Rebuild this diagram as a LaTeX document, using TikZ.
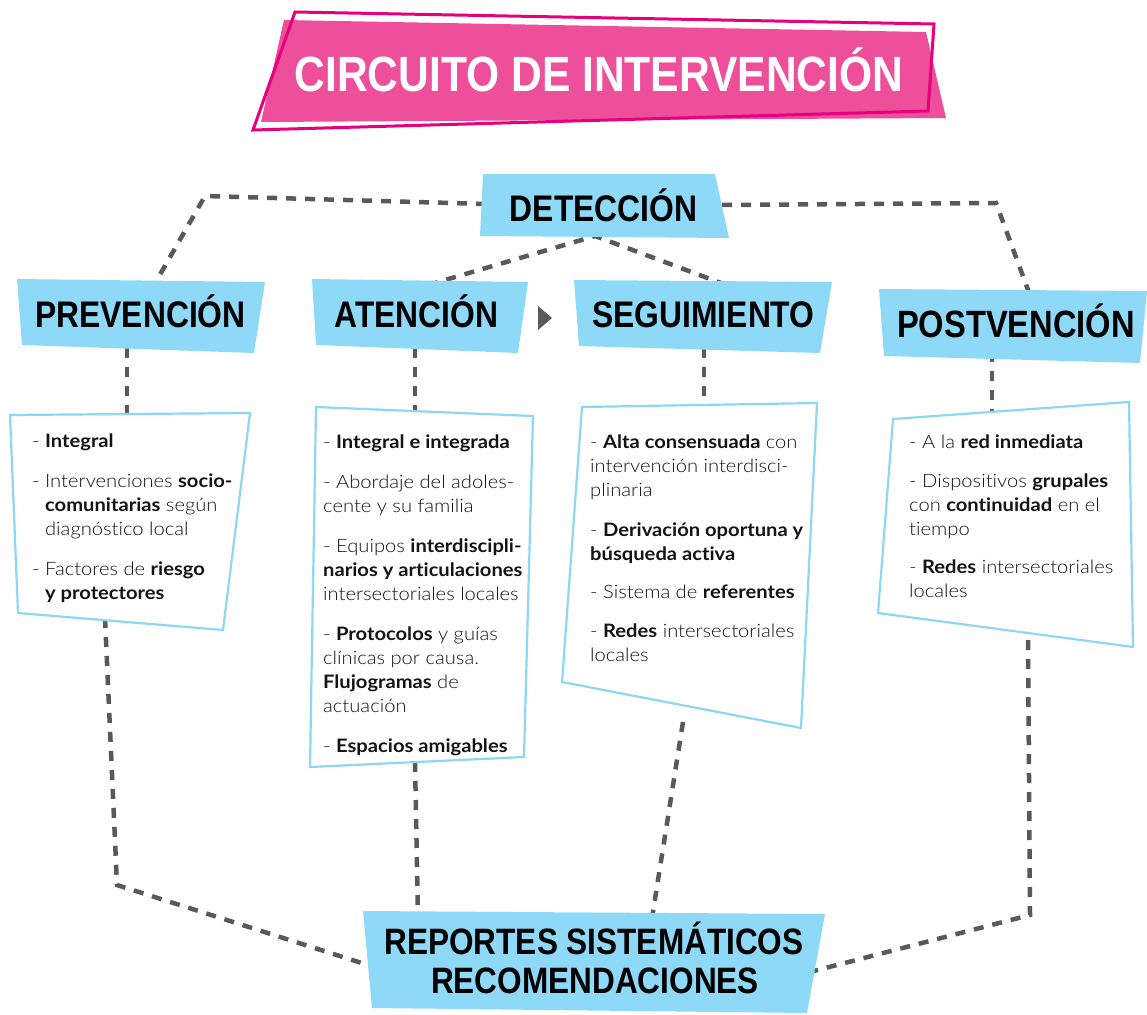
\documentclass[tikz,border=0pt]{standalone}
\usepackage{fontspec}
\setmainfont{Lato}[UprightFont=* Light, BoldFont=* Bold, FakeStretch=1.09, Ligatures=NoCommon]
\newfontfamily\headfont[FakeStretch=0.86]{Liberation Sans}
\definecolor{lblue}{HTML}{8ED8F8}
\definecolor{bline}{HTML}{8ED6F5}
\definecolor{pinkfill}{HTML}{EE4F9B}
\definecolor{magline}{HTML}{E6007E}
\definecolor{dashgray}{HTML}{58595B}
\newcommand\fs{\rule{0pt}{14pt}}
\tikzset{
  conn/.style={draw=dashgray, line width=4.5pt, dash pattern=on 10pt off 9pt},
  headshape/.style={fill=lblue},
  boxshape/.style={draw=bline, fill=white, line width=2.2pt, line join=miter},
  headtext/.style={font=\headfont\bfseries\fontsize{37}{40}\selectfont, anchor=base, inner sep=0pt, text=black},
  bodytext/.style={font=\fontsize{18.5}{24}\selectfont, anchor=north west, inner sep=0pt, align=left, text=black!92},
}
\begin{document}
\begin{tikzpicture}[x=1pt,y=-1pt]
\useasboundingbox (0,0) rectangle (1147,1014);
% ---------- connector end points
\coordinate (detL) at (486,204);
\coordinate (k1) at (205,196);
\coordinate (prevT) at (150,292);
\coordinate (detR) at (722,205);
\coordinate (k2) at (996,203);
\coordinate (postT) at (1031,298);
\coordinate (atenT) at (428,285);
\coordinate (detB) at (595,236);
\coordinate (segT) at (729,286);
\coordinate (prevH) at (127,348);
\coordinate (prevX) at (127,418);
\coordinate (atenH) at (415,348);
\coordinate (atenX) at (415,412);
\coordinate (segH) at (704,348);
\coordinate (segX) at (704,408);
\coordinate (postH) at (992,352);
\coordinate (postX) at (992,420);
\coordinate (prevY) at (105,618);
\coordinate (k3) at (117,885);
\coordinate (repL) at (368,965);
\coordinate (atenY) at (415,762);
\coordinate (repA) at (418,918);
\coordinate (segY) at (683,722);
\coordinate (repS) at (652,918);
\coordinate (postY) at (1028,640);
\coordinate (k4) at (1030,915);
\coordinate (repR) at (806,973);
% ---------- connectors
\draw[conn] (detL) -- (k1) -- (prevT);
\draw[conn] (detR) -- (k2) -- (postT);
\draw[conn] (atenT) -- (detB) -- (segT);
\draw[conn] (prevH) -- (prevX);
\draw[conn] (atenH) -- (atenX);
\draw[conn] (segH) -- (segX);
\draw[conn] (postH) -- (postX);
\draw[conn] (prevY) -- (k3) -- (repL);
\draw[conn] (atenY) -- (repA);
\draw[conn] (segY) -- (repS);
\draw[conn] (postY) -- (k4) -- (repR);
% ---------- title
\fill[pinkfill] (284,20) -- (926,32) -- (946,118) -- (261,122) -- cycle;
\draw[magline, line width=3pt] (295,12) -- (934,24) -- (928,111) -- (253,130) -- cycle;
\node[font=\headfont\bfseries\fontsize{49.5}{50}\selectfont, text=white, anchor=base, inner sep=0pt] (title) at (599,92) {CIRCUITO DE INTERVENCIÓN};
% ---------- header shapes
\fill[headshape] (483,174) -- (715,174) -- (729,238) -- (480,236) -- cycle;
\fill[headshape] (17,279) -- (265,282) -- (254,353) -- (22,345) -- cycle;
\fill[headshape] (312,279) -- (528,282) -- (518,353) -- (316,345) -- cycle;
\fill[headshape] (574,280) -- (832,282) -- (820,353) -- (579,346) -- cycle;
\fill[headshape] (879,289) -- (1147,291) -- (1140,363) -- (884,356) -- cycle;
\fill[headshape] (363,911) -- (825,914) -- (807,1013) -- (372,1008) -- cycle;
% ---------- content boxes
\draw[boxshape] (10,415) -- (250,413) -- (223,630) -- (18,613) -- cycle;
\draw[boxshape] (316,407) -- (533,416) -- (524,757) -- (310,767) -- cycle;
\draw[boxshape] (582,407) -- (817,403) -- (801,728) -- (562,682) -- cycle;
\draw[boxshape] (893,419) -- (1129,402) -- (1133,647) -- (878,613) -- cycle;
% ---------- arrow head
\fill[dashgray] (538,306) -- (552,318) -- (538,330) -- cycle;
% ---------- header texts
\node[headtext] (det) at (603.5,221) {DETECCIÓN};
\node[headtext] (prev) at (140.5,327) {PREVENCIÓN};
\node[headtext] (aten) at (416.5,327) {ATENCIÓN};
\node[headtext] (seg) at (703.5,327) {SEGUIMIENTO};
\node[headtext, font=\headfont\bfseries\fontsize{38}{40}\selectfont] (post) at (1016,337) {POSTVENCIÓN};
\node[headtext, font=\headfont\bfseries\fontsize{36.7}{40}\selectfont] (rep1) at (594,954) {REPORTES SISTEMÁTICOS};
\node[headtext, font=\headfont\bfseries\fontsize{36.7}{40}\selectfont] (rep2) at (595,993) {RECOMENDACIONES};
% ---------- body texts
\node[bodytext] (prevtxt) at (32,433) {\fs- \textbf{Integral}\\[16pt]
- Intervenciones \textbf{socio-}\\
\phantom{- }\textbf{comunitarias} según\\
\phantom{- }diagnóstico local\\[16pt]
- Factores de \textbf{riesgo}\\
\phantom{- }\textbf{y protectores}};
\node[bodytext] (atentxt) at (323,434) {\fs- \textbf{Integral e integrada}\\[16pt]
- Abordaje del adoles-\\
cente y su familia\\[16pt]
- Equipos \textbf{interdiscipli-}\\
\textbf{narios y articulaciones}\\
intersectoriales locales\\[16pt]
- \textbf{Protocolos} y guías\\
clínicas por causa.\\
\textbf{Flujogramas} de\\
actuación\\[16pt]
- \textbf{Espacios amigables}};
\node[bodytext] (segtxt) at (590,434) {\fs- \textbf{Alta consensuada} con\\
intervención interdisci-\\
plinaria\\[16pt]
- \textbf{Derivación oportuna y}\\
\textbf{búsqueda activa}\\[14pt]
- Sistema de \textbf{referentes}\\[15pt]
- \textbf{Redes} intersectoriales\\
locales};
\node[bodytext] (posttxt) at (909,434) {\fs- A la \textbf{red inmediata}\\[15pt]
- Dispositivos \textbf{grupales}\\
con \textbf{continuidad} en el\\
tiempo\\[14pt]
- \textbf{Redes} intersectoriales\\
locales};
\end{tikzpicture}
\end{document}
